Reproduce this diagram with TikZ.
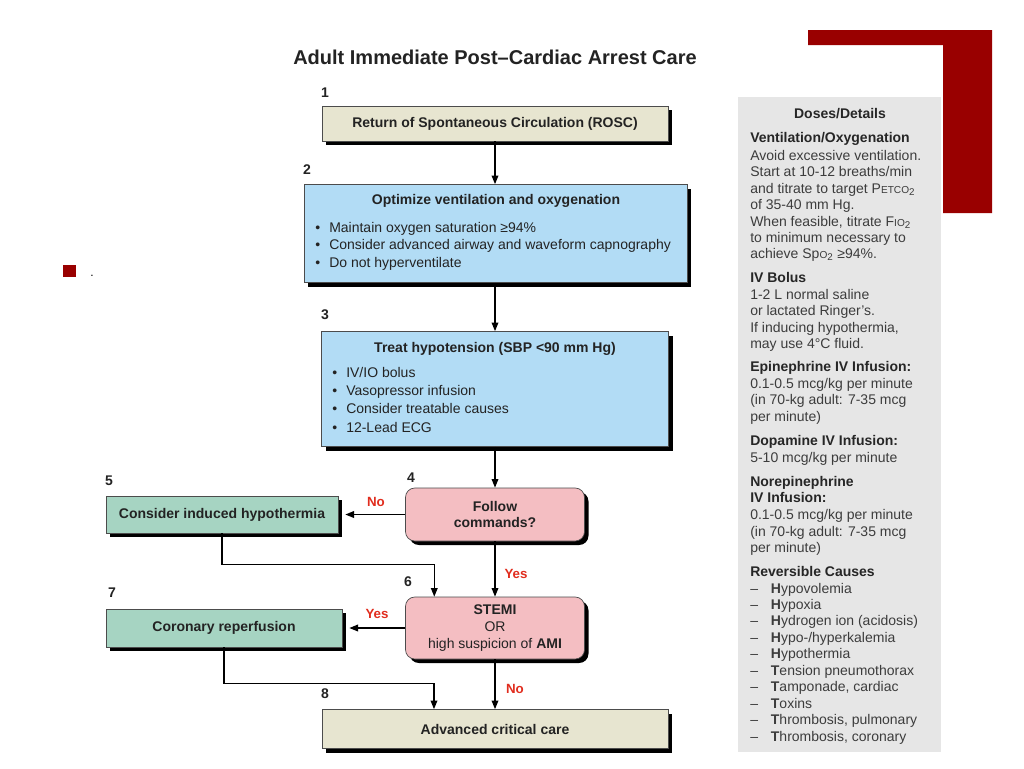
\documentclass[tikz,border=0pt]{standalone}
\usepackage{fontspec}
\setmainfont{Liberation Sans}
\usetikzlibrary{shadows,arrows.meta,calc}
\newdimen\px \px=0.75pt
\definecolor{beigeC}{RGB}{231,229,208}
\definecolor{blueC}{RGB}{178,220,245}
\definecolor{pinkC}{RGB}{244,190,194}
\definecolor{greenC}{RGB}{166,212,194}
\definecolor{panelC}{RGB}{230,230,230}
\definecolor{darkredC}{RGB}{153,0,0}
\definecolor{labelC}{RGB}{225,45,30}
\definecolor{txtC}{RGB}{35,35,35}
\definecolor{ptxtC}{RGB}{60,60,60}
\newcommand\bul{\makebox[10.5pt][l]{•}}
\newcommand\dsh{\makebox[15.5pt][l]{–}}
\newcommand\smc[1]{{\fontsize{7.6}{8}\selectfont #1}}
\begin{document}
\begin{tikzpicture}[x=0.75pt,y=-0.75pt,
  box/.style={draw=black!70, line width=0.5pt, inner sep=0pt, text=txtC,
    font=\bfseries\fontsize{10.5}{12.5}\selectfont, align=center,
    drop shadow={shadow xshift=3pt,shadow yshift=-3pt,opacity=1,fill=black}},
  beigebox/.style={box, fill=beigeC},
  bluebox/.style={box, fill=blueC},
  pinkbox/.style={box, fill=pinkC, rounded corners=7pt},
  greenbox/.style={box, fill=greenC},
  boxtitle/.style={font=\bfseries\fontsize{10.5}{12}\selectfont, text=txtC, inner sep=0pt},
  bultext/.style={font=\fontsize{10.5}{12}\selectfont, text=txtC, inner sep=0pt, anchor=base west},
  num/.style={font=\bfseries\fontsize{10.5}{12}\selectfont, text=txtC, inner sep=0pt},
  yn/.style={font=\bfseries\fontsize{10}{12}\selectfont, text=labelC, inner sep=0pt},
  arr/.style={-{Triangle[length=6.5pt,width=5pt]}, line width=1pt, black},
  ptext/.style={font=\fontsize{10.5}{12}\selectfont, text=ptxtC, inner sep=0pt, anchor=base west},
  phead/.style={font=\bfseries\fontsize{10.5}{12}\selectfont, text=black!85, inner sep=0pt, anchor=base west}
]
\useasboundingbox (0,0) rectangle (1024,768);
\fill[white] (0,0) rectangle (1024,768);

% decoration
\fill[darkredC] (808,30) -- (992,30) -- (992,213) -- (943,213) -- (943,45) -- (808,45) -- cycle;
\fill[darkredC] (63,265) rectangle (76,277);
\node[font=\fontsize{9}{11}\selectfont, inner sep=0pt] (dot) at (92,276) {.};

% title
\node[font=\bfseries\fontsize{15}{17}\selectfont, text=txtC, inner sep=0pt] (title) at (495,57) {Adult Immediate Post–Cardiac Arrest Care};

% panel
\fill[panelC] (738,97) rectangle (941,752);
\node[phead, anchor=base] (ph) at (840,118) {Doses/Details};
\node[phead] (p1) at (750,142) {Ventilation/Oxygenation};
\node[ptext] (p2) at (750,160) {Avoid excessive ventilation.};
\node[ptext] (p3) at (750,176) {Start at 10-12 breaths/min};
\node[ptext] (p4) at (750,193) {and titrate to target P\smc{ETCO}\textsubscript{2}};
\node[ptext] (p5) at (750,209) {of 35-40 mm Hg.};
\node[ptext] (p6) at (750,226) {When feasible, titrate F\smc{IO}\textsubscript{2}};
\node[ptext] (p7) at (750,242) {to minimum necessary to};
\node[ptext] (p8) at (750,258) {achieve Sp\smc{O}\textsubscript{2} ≥94\%.};
\node[phead] (p9) at (750,282) {IV Bolus};
\node[ptext] (p10) at (750,299) {1-2 L normal saline};
\node[ptext] (p11) at (750,315) {or lactated Ringer's.};
\node[ptext] (p12) at (750,332) {If inducing hypothermia,};
\node[ptext] (p13) at (750,348) {may use 4°C fluid.};
\node[phead] (p14) at (750,371) {Epinephrine IV Infusion:};
\node[ptext] (p15) at (750,388) {0.1-0.5 mcg/kg per minute};
\node[ptext] (p16) at (750,404) {(in 70-kg adult: 7-35 mcg};
\node[ptext] (p17) at (750,421) {per minute)};
\node[phead] (p18) at (750,445) {Dopamine IV Infusion:};
\node[ptext] (p19) at (750,462) {5-10 mcg/kg per minute};
\node[phead] (p20) at (750,486) {Norepinephrine};
\node[phead] (p21) at (750,502) {IV Infusion:};
\node[ptext] (p22) at (750,519) {0.1-0.5 mcg/kg per minute};
\node[ptext] (p23) at (750,536) {(in 70-kg adult: 7-35 mcg};
\node[ptext] (p24) at (750,552) {per minute)};
\node[phead] (p25) at (750,576) {Reversible Causes};
\node[ptext] (r1) at (750,593) {\dsh\textbf{H}ypovolemia};
\node[ptext] (r2) at (750,609) {\dsh\textbf{H}ypoxia};
\node[ptext] (r3) at (750,625) {\dsh\textbf{H}ydrogen ion (acidosis)};
\node[ptext] (r4) at (750,642) {\dsh\textbf{H}ypo-/hyperkalemia};
\node[ptext] (r5) at (750,658) {\dsh\textbf{H}ypothermia};
\node[ptext] (r6) at (750,675) {\dsh\textbf{T}ension pneumothorax};
\node[ptext] (r7) at (750,691) {\dsh\textbf{T}amponade, cardiac};
\node[ptext] (r8) at (750,708) {\dsh\textbf{T}oxins};
\node[ptext] (r9) at (750,724) {\dsh\textbf{T}hrombosis, pulmonary};
\node[ptext] (r10) at (750,741) {\dsh\textbf{T}hrombosis, coronary};

% boxes
\node[beigebox, minimum width=346*\px, minimum height=35*\px] (b1) at (495,123.5) {Return of Spontaneous Circulation (ROSC)};
\node[bluebox, minimum width=383*\px, minimum height=98*\px] (b2) at (495.5,233.5) {};
\node[bluebox, minimum width=347*\px, minimum height=115*\px] (b3) at (495,389) {};
\node[pinkbox, minimum width=179*\px, minimum height=53*\px] (b4) at (495,514.5) {Follow\\commands?};
\node[greenbox, minimum width=232*\px, minimum height=37*\px] (b5) at (222,514.5) {Consider induced hypothermia};
\node[pinkbox, minimum width=179*\px, minimum height=62*\px] (b6) at (495,628) {STEMI\\\mdseries OR\\\mdseries high suspicion of \bfseries AMI};
\node[greenbox, minimum width=236*\px, minimum height=38*\px] (b7) at (224,628) {Coronary reperfusion};
\node[beigebox, minimum width=346*\px, minimum height=39*\px] (b8) at (495,729) {Advanced critical care};

% box texts
\node[boxtitle] (t2) at (496,201) {Optimize ventilation and oxygenation};
\node[bultext] (t2a) at (315,232) {\bul Maintain oxygen saturation ≥94\%};
\node[bultext] (t2b) at (315,249) {\bul Consider advanced airway and waveform capnography};
\node[bultext] (t2c) at (315,267) {\bul Do not hyperventilate};
\node[boxtitle] (t3) at (495,349) {Treat hypotension (SBP <90 mm Hg)};
\node[bultext] (t3a) at (332,377) {\bul IV/IO bolus};
\node[bultext] (t3b) at (332,395) {\bul Vasopressor infusion};
\node[bultext] (t3c) at (332,413) {\bul Consider treatable causes};
\node[bultext] (t3d) at (332,432) {\bul 12-Lead ECG};

% numbers
\node[num] (n1) at (325,93) {1};
\node[num] (n2) at (307,170) {2};
\node[num] (n3) at (325,315) {3};
\node[num] (n4) at (411,478) {4};
\node[num] (n5) at (109,481) {5};
\node[num] (n6) at (408,582) {6};
\node[num] (n7) at (112,593) {7};
\node[num] (n8) at (325,694) {8};

% connectors
\draw[arr] (b1.south) -- (b2.north -| b1.south);
\draw[arr] (b2.south -| b1.south) -- (b3.north);
\draw[arr] (b3.south) -- (b4.north);
\draw[arr, shorten >=7*\px] (b4.west) -- (b5.east);
\coordinate (c6) at ($(b6.north west)!0.162!(b6.north east)$);
\draw[arr] (b5.south) |- ($(c6)+(0,-32)$) -- (c6);
\draw[arr] (b4.south) -- (b6.north);
\draw[arr, shorten >=7*\px] (b6.west) -- (b7.east);
\coordinate (c8) at ($(b8.north west)!0.324!(b8.north east)$);
\draw[arr] (b7.south) |- ($(c8)+(0,-26)$) -- (c8);
\draw[arr] (b6.south) -- (b8.north -| b6.south);

% labels
\node[yn] (l1) at (376,502) {No};
\node[yn] (l2) at (516,574) {Yes};
\node[yn] (l3) at (377,614) {Yes};
\node[yn] (l4) at (515,689) {No};
\end{tikzpicture}
\end{document}
